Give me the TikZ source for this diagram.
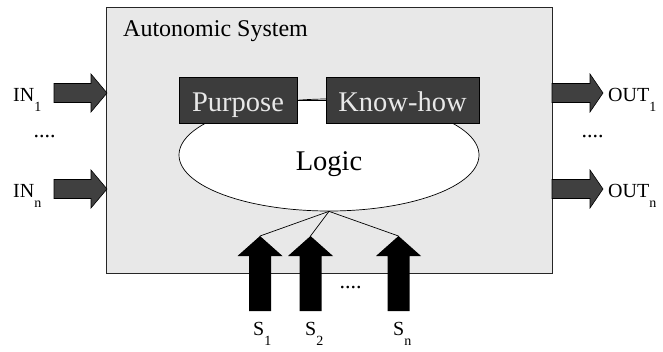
\documentclass[tikz,border=0pt]{standalone}
\usepackage{fontspec}
\setmainfont{Liberation Serif}
\usetikzlibrary{shapes.geometric}
\definecolor{panel}{HTML}{E8E8E8}
\definecolor{boxfill}{HTML}{3C3C3C}
\definecolor{arrowfill}{HTML}{404040}
\definecolor{boxtext}{HTML}{E8E8E8}
% lowered subscript as set in the labels
\newcommand\lowsub[2][10pt]{\raisebox{-#1}{\fontsize{14}{14}\selectfont #2}}

\begin{document}
\begin{tikzpicture}[x=1pt,y=-1pt,
  labeltext/.style={font=\fontsize{20}{20}\selectfont, inner sep=0pt, anchor=base west},
  dotstext/.style={font=\fontsize{22}{22}\selectfont, inner sep=0pt},
  darkbox/.style={draw=black, fill=boxfill, text=boxtext,
    font=\fontsize{28.5}{28.5}\selectfont, minimum height=46pt, inner sep=0pt,
    text height=22pt, text depth=0pt, line width=0.8pt},
  sidearrow/.style={draw=black, fill=arrowfill, line width=0.6pt},
  sensorarrow/.style={fill=black},
  link/.style={draw=black, line width=0.7pt}]
\useasboundingbox (0,0) rectangle (663,351);

% system panel
\node[draw=black!85, fill=panel, line width=0.9pt, minimum width=446pt,
  minimum height=266pt, anchor=north west, inner sep=0pt] (system) at (106,7) {};
\node[font=\fontsize{24}{24}\selectfont, anchor=base west, inner sep=0pt]
  (title) at (123,36) {Autonomic System};

% logic core with its two parts
\node[ellipse, draw=black, fill=white, line width=0.7pt, minimum width=300pt,
  minimum height=112pt, inner sep=0pt, font=\fontsize{28.5}{28.5}\selectfont,
  text height=30pt, text depth=0pt] (logic) at (329,155) {Logic};
\node[darkbox, minimum width=118pt] (purpose) at (238,100) {Purpose};
\node[darkbox, minimum width=153pt] (knowhow) at (402.5,100) {Know-how};
\draw[link] (purpose.east) -- (knowhow.west);

% inputs
\foreach \yc in {93,189} {
  \draw[sidearrow] (54,\yc-9.5) -- (91,\yc-9.5) -- (91,\yc-19) -- (107,\yc)
    -- (91,\yc+19) -- (91,\yc+9.5) -- (54,\yc+9.5) -- cycle;
}
% outputs
\foreach \yc in {93,189} {
  \draw[sidearrow] (552,\yc-9.5) -- (590,\yc-9.5) -- (590,\yc-19) -- (603,\yc)
    -- (590,\yc+19) -- (590,\yc+9.5) -- (552,\yc+9.5) -- cycle;
}

% sensors feeding the logic
\foreach \cx/\nm in {260/s1, 310.5/s2, 398.5/sn} {
  \fill[sensorarrow] (\cx-11,311) -- (\cx-11,256) -- (\cx-22.5,256) -- (\cx,236)
    -- (\cx+22.5,256) -- (\cx+11,256) -- (\cx+11,311) -- cycle;
  \coordinate (\nm) at (\cx,236);
  \draw[link] (\nm) -- (logic.south);
}

% labels
\node[labeltext] (inone) at (13,101) {IN\lowsub{1}};
\node[labeltext] (inlast) at (13,197) {IN\lowsub{n}};
\node[dotstext] (indots) at (44.5,137) {....};
\node[labeltext] (outone) at (608,101) {OUT\lowsub{1}};
\node[labeltext] (outlast) at (608,197) {OUT\lowsub{n}};
\node[dotstext] (outdots) at (592.5,137) {....};
\node[dotstext] (sdots) at (350.5,288) {....};
\node[labeltext] (sone) at (253,335) {S\lowsub{1}};
\node[labeltext] (stwo) at (305,335) {S\lowsub{2}};
\node[labeltext] (slast) at (393,335) {S\lowsub{n}};
\end{tikzpicture}
\end{document}
